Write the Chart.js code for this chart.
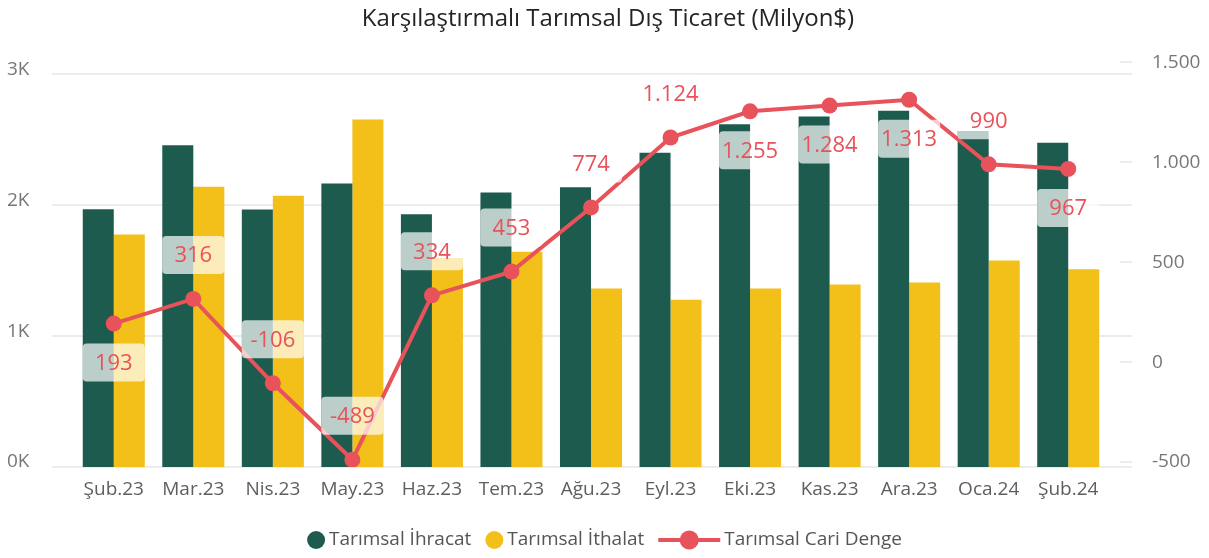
<!DOCTYPE html>
<html>
<head>
<meta charset="utf-8">
<script src="https://cdn.jsdelivr.net/npm/chart.js@4.4.1/dist/chart.umd.min.js"></script>
<style>
  html, body { margin: 0; padding: 0; background: #fff; }
  #wrap { width: 1209px; height: 558px; }
</style>
</head>
<body>
<div id="wrap"><canvas id="tradeChart" width="1209" height="558"></canvas></div>
<script>
// data
const months = ["Şub.23", "Mar.23", "Nis.23", "May.23", "Haz.23", "Tem.23", "Ağu.23",
  "Eyl.23", "Eki.23", "Kas.23", "Ara.23", "Oca.24", "Şub.24"];
const exportVals = [1969, 2458, 1967, 2166, 1931, 2097, 2137, 2402, 2618, 2678, 2722, 2567, 2478];
const importVals = [1776, 2142, 2073, 2655, 1597, 1644, 1363, 1278, 1363, 1394, 1409, 1577, 1511];
const balanceVals = [193, 316, -106, -489, 334, 453, 774, 1124, 1255, 1284, 1313, 990, 967];
const leftTicks = [0, 1000, 2000, 3000];
const rightTicks = [-500, 0, 500, 1000, 1500];
// where each balance label sits relative to its point
const labelPos = ["below", "above", "above", "above", "above", "above", "above",
  "above", "below", "below", "below", "above", "below"];

const GREEN = "#1D5B4E";
const YELLOW = "#F2C018";
const RED = "#E8525A";
const FONT = "'Segoe UI', 'Open Sans', sans-serif";

function fmtTr(v) {
  const s = Math.abs(v).toString().replace(/\B(?=(\d{3})+(?!\d))/g, ".");
  return (v < 0 ? "-" : "") + s;
}

const gridPlugin = {
  id: "gridLines",
  beforeDatasetsDraw(chart) {
    const { ctx, chartArea } = chart;
    const ys = chart.scales.y, y1 = chart.scales.y1;
    ctx.save();
    ctx.strokeStyle = "#E6E6E6";
    ctx.lineWidth = 1.5;
    ys.ticks.forEach(t => {
      const py = Math.round(ys.getPixelForValue(t.value));
      ctx.beginPath();
      ctx.moveTo(chartArea.left - 22, py);
      ctx.lineTo(chartArea.right + 24, py);
      ctx.stroke();
    });
    y1.ticks.forEach(t => {
      const py = Math.round(y1.getPixelForValue(t.value));
      ctx.beginPath();
      ctx.moveTo(chartArea.right + 12, py);
      ctx.lineTo(chartArea.right + 24, py);
      ctx.stroke();
    });
    ctx.restore();
  }
};

const labelPlugin = {
  id: "balanceLabels",
  afterDatasetsDraw(chart) {
    const ctx = chart.ctx;
    const line = chart.getDatasetMeta(2);
    const bars = chart.getDatasetMeta(0);
    ctx.save();
    ctx.font = "22px " + FONT;
    ctx.textAlign = "center";
    ctx.textBaseline = "middle";
    line.data.forEach((pt, i) => {
      const w = bars.data[i].width * 2;
      const cy = pt.y + (labelPos[i] === "above" ? -44 : 39);
      ctx.fillStyle = "rgba(255,255,255,0.7)";
      ctx.beginPath();
      ctx.roundRect(pt.x - w / 2, cy - 19, w, 38, 4);
      ctx.fill();
      ctx.fillStyle = RED;
      ctx.fillText(fmtTr(balanceVals[i]), pt.x, cy + 1);
    });
    ctx.restore();
  }
};

const legendPlugin = {
  id: "bottomLegend",
  afterDraw(chart) {
    const ctx = chart.ctx;
    const items = chart.data.datasets.map(ds => ({ text: ds.label, color: ds.borderColor || ds.backgroundColor, kind: ds.type }));
    ctx.save();
    ctx.font = "19px " + FONT;
    ctx.textBaseline = "middle";
    const symW = it => it.kind === "line" ? 62 : 18;
    const gap = 4, itemGap = 14;
    let total = 0;
    items.forEach((it, i) => {
      total += symW(it) + gap + ctx.measureText(it.text).width + (i < items.length - 1 ? itemGap : 0);
    });
    let x = chart.width / 2 - total / 2;
    const y = 540;
    items.forEach(it => {
      ctx.fillStyle = it.color;
      ctx.strokeStyle = it.color;
      if (it.kind === "line") {
        ctx.lineWidth = 4;
        ctx.beginPath();
        ctx.moveTo(x, y);
        ctx.lineTo(x + 62, y);
        ctx.stroke();
        ctx.beginPath();
        ctx.arc(x + 31, y, 9.5, 0, Math.PI * 2);
        ctx.fill();
      } else {
        ctx.beginPath();
        ctx.arc(x + 9, y, 9, 0, Math.PI * 2);
        ctx.fill();
      }
      x += symW(it) + gap;
      ctx.fillStyle = "#555";
      ctx.fillText(it.text, x, y);
      x += ctx.measureText(it.text).width + itemGap;
    });
    ctx.restore();
  }
};

new Chart(document.getElementById("tradeChart").getContext("2d"), {
  data: {
    labels: months,
    datasets: [
      {
        type: "bar",
        label: "Tarımsal İhracat",
        data: exportVals,
        backgroundColor: GREEN,
        yAxisID: "y",
        order: 1,
        categoryPercentage: 0.78,
        barPercentage: 1.0,
      },
      {
        type: "bar",
        label: "Tarımsal İthalat",
        data: importVals,
        backgroundColor: YELLOW,
        yAxisID: "y",
        order: 1,
        categoryPercentage: 0.78,
        barPercentage: 1.0,
      },
      {
        type: "line",
        label: "Tarımsal Cari Denge",
        data: balanceVals,
        borderColor: RED,
        backgroundColor: RED,
        borderWidth: 4,
        pointRadius: 8,
        pointHoverRadius: 8,
        pointBorderWidth: 0,
        yAxisID: "y1",
        order: 0,
      },
    ],
  },
  options: {
    responsive: false,
    animation: false,
    layout: { padding: { left: 7, right: 0, top: 0, bottom: 0 } },
    plugins: {
      legend: { display: false },
      tooltip: { enabled: false },
      title: {
        display: true,
        text: "Karşılaştırmalı Tarımsal Dış Ticaret (Milyon$)",
        color: "#252423",
        font: { family: FONT, size: 24, weight: "normal" },
        padding: { top: 4, bottom: 22 },
      },
    },
    scales: {
      x: {
        grid: { display: false, drawTicks: false },
        border: { display: false },
        ticks: { color: "#605E5C", font: { family: FONT, size: 19 }, padding: 11, maxRotation: 0, autoSkip: false },
        afterFit(s) { s.height = 91; },
      },
      y: {
        position: "left",
        min: 0,
        max: 3145,
        grid: { display: false, drawTicks: false },
        border: { display: false },
        afterBuildTicks(s) { s.ticks = leftTicks.map(v => ({ value: v })); },
        ticks: {
          color: "#777",
          font: { family: FONT, size: 19 },
          crossAlign: "far",
          labelOffset: -5,
          callback: v => (v / 1000) + "K",
        },
        afterFit(s) { s.width = 67; },
      },
      y1: {
        position: "right",
        min: -525,
        max: 1535,
        grid: { display: false, drawTicks: false },
        border: { display: false },
        afterBuildTicks(s) { s.ticks = rightTicks.map(v => ({ value: v })); },
        ticks: {
          color: "#777",
          font: { family: FONT, size: 19 },
          crossAlign: "near",
          padding: 44,
          callback: v => fmtTr(v),
        },
        afterFit(s) { s.width = 101; },
      },
    },
  },
  plugins: [gridPlugin, labelPlugin, legendPlugin],
});
</script>
</body>
</html>
